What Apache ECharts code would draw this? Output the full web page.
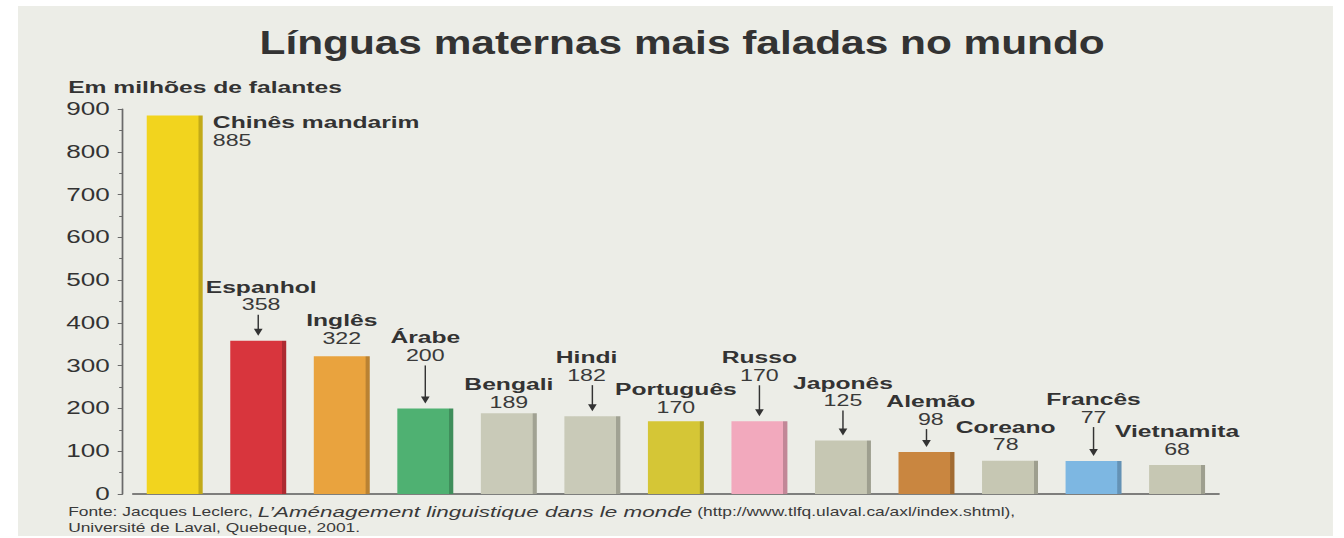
<!DOCTYPE html>
<html>
<head>
<meta charset="utf-8">
<script src="https://cdn.jsdelivr.net/npm/echarts@6/dist/echarts.min.js"></script>
<style>
  html, body { margin: 0; padding: 0; background: #fff; overflow: hidden; }
  /* the scanned original is stretched sideways, so the chart is drawn narrow and widened */
  #chart { width: 927px; height: 538px; transform: scaleX(1.4498); transform-origin: 0 0; }
</style>
</head>
<body>
<div id="chart"></div>
<script>
var languages = ['Chinês mandarim', 'Espanhol', 'Inglês', 'Árabe', 'Bengali', 'Hindi', 'Português',
    'Russo', 'Japonês', 'Alemão', 'Coreano', 'Francês', 'Vietnamita'];
var speakers = [885, 358, 322, 200, 189, 182, 170, 170, 125, 98, 78, 77, 68];
var barColors = ['#f2d41e', '#d8353d', '#e9a33e', '#4fb172', '#c9cab8', '#c9cab8', '#d5c636',
    '#f2a9bd', '#c6c7b3', '#c98640', '#c6c7b3', '#7db7e2', '#c6c7b3'];
var hasArrow = [false, true, false, true, false, true, false, true, true, true, false, true, false];

// label placement (px above the bar, sideways nudge)
var labelLift = [0, 27, 9, 44, 2, 32, 5, 37, 31, 24, 7, 35, 7];
var labelShift = [0, 2, 0, 0, 0, -4, 0, 0, 0, 3, -3, 0, 0];

function darker(hex, f) {
    var n = parseInt(hex.slice(1), 16);
    var r = Math.round(((n >> 16) & 255) * f), g = Math.round(((n >> 8) & 255) * f), b = Math.round((n & 255) * f);
    return 'rgb(' + r + ',' + g + ',' + b + ')';
}

var barData = speakers.map(function (v, i) {
    var item = {
        value: v,
        itemStyle: {
            color: {
                type: 'linear', x: 0, y: 0, x2: 1, y2: 0,
                colorStops: [
                    { offset: 0, color: barColors[i] },
                    { offset: 0.92, color: barColors[i] },
                    { offset: 0.93, color: darker(barColors[i], 0.8) },
                    { offset: 1, color: darker(barColors[i], 0.8) }
                ]
            }
        }
    };
    if (i === 0) {
        item.label = { position: ['100%', -2], offset: [7, 0], align: 'left', verticalAlign: 'top' };
    } else {
        item.label = { distance: labelLift[i], offset: [labelShift[i], 0] };
    }
    return item;
});

var arrowData = [];
speakers.forEach(function (v, i) {
    if (hasArrow[i]) arrowData.push([i, v, labelLift[i]]);
});

var chart = echarts.init(document.getElementById('chart'), null, { renderer: 'svg' });

var option = {
    backgroundColor: '#ffffff',
    animation: false,
    graphic: [
        { type: 'rect', left: 12.4, top: 6, z: -10, shape: { width: 907, height: 530 }, style: { fill: '#ecede7' } },
        {
            type: 'text', x: 470.5, y: 42, scaleX: 0.86,
            style: {
                text: 'Línguas maternas mais faladas no mundo',
                font: 'bold 34px "Liberation Sans", Arial, sans-serif',
                fill: '#333333', textAlign: 'center', textVerticalAlign: 'middle'
            }
        }
    ],
    title: [
        {
            text: 'Em milhões de falantes', left: 47, top: 78, padding: 0,
            textStyle: { fontFamily: 'Liberation Sans', fontSize: 17, fontWeight: 'bold', color: '#333', lineHeight: 18 }
        },
        {
            text: '{a|Fonte: Jacques Leclerc, }{i|L\u2019Aménagement linguistique dans le monde}{a| (http://www.tlfq.ulaval.ca/axl/index.shtml),}\n{a|Université de Laval, Quebeque, 2001.}',
            left: 47, top: 504, padding: 0,
            textStyle: {
                fontWeight: 'normal',
                rich: {
                    a: { fontFamily: 'Liberation Sans', fontSize: 12, fontWeight: 'normal', color: '#3a3a3a', lineHeight: 16 },
                    i: { fontFamily: 'Liberation Sans', fontSize: 15.5, fontWeight: 'normal', fontStyle: 'italic', color: '#3a3a3a', lineHeight: 16 }
                }
            }
        }
    ],
    grid: { left: 91.7, right: 86.3, top: 109, bottom: 44 },
    xAxis: {
        type: 'category',
        data: languages,
        axisLabel: { show: false },
        axisTick: { show: false },
        axisLine: { lineStyle: { color: '#5a5a5a', width: 1.5 } }
    },
    yAxis: {
        type: 'value',
        min: 0, max: 900, interval: 100,
        offset: 7,
        splitLine: { show: false },
        axisLine: { show: true, lineStyle: { color: '#6a6a6a', width: 1.2 } },
        axisTick: { show: true, length: 3.5, lineStyle: { color: '#6a6a6a' } },
        minorTick: { show: true, splitNumber: 2, length: 2.5, lineStyle: { color: '#6a6a6a' } },
        axisLabel: { margin: 9, fontFamily: 'Liberation Sans', fontSize: 18, color: '#333' }
    },
    series: [
        {
            type: 'bar',
            data: barData,
            barWidth: 38.6,
            label: {
                show: true,
                position: 'top',
                formatter: function (p) { return '{n|' + p.name + '}\n{v|' + p.value + '}'; },
                rich: {
                    n: { fontFamily: 'Liberation Sans', fontSize: 17, fontWeight: 'bold', color: '#333', lineHeight: 18 },
                    v: { fontFamily: 'Liberation Sans', fontSize: 16, color: '#3a3a3a', lineHeight: 18 }
                }
            }
        },
        {
            type: 'custom',
            silent: true,
            z: 5,
            data: arrowData,
            renderItem: function (params, api) {
                var p = api.coord([api.value(0), api.value(1)]);
                var top = p[1] - api.value(2) + 1;
                var tip = p[1] - 5;
                return {
                    type: 'group',
                    children: [
                        { type: 'line', shape: { x1: p[0], y1: top, x2: p[0], y2: tip - 5 }, style: { stroke: '#333', lineWidth: 1 } },
                        { type: 'polygon', shape: { points: [[p[0] - 3, tip - 7], [p[0] + 3, tip - 7], [p[0], tip]] }, style: { fill: '#333' } }
                    ]
                };
            }
        }
    ]
};

chart.setOption(option);
</script>
</body>
</html>
